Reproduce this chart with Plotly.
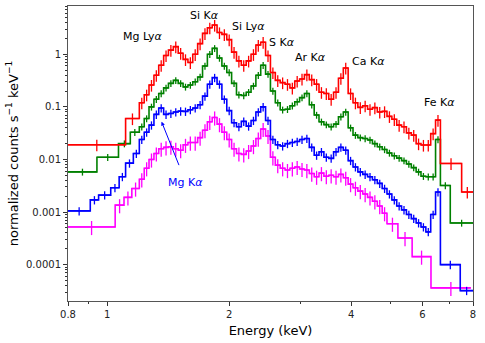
import numpy as np
import plotly.graph_objects as go

# Shared energy grid (keV) for the finely binned part of the spectra
grid = [1.200, 1.234, 1.268, 1.304, 1.340, 1.378, 1.416, 1.456, 1.497, 1.539,
        1.582, 1.626, 1.672, 1.719, 1.767, 1.816, 1.867, 1.919, 1.973, 2.028,
        2.085, 2.143, 2.203, 2.265, 2.328, 2.393, 2.460, 2.529, 2.600, 2.673,
        2.748, 2.825, 2.904, 2.985, 3.068, 3.154, 3.243, 3.333, 3.427, 3.523,
        3.621, 3.723, 3.827, 3.934, 4.044, 4.157, 4.274, 4.393, 4.516, 4.643,
        4.773, 4.906, 5.044, 5.185, 5.330, 5.479, 5.633, 5.790, 5.952, 6.119,
        6.290, 6.466, 6.647]

# Red spectrum
red_edges = [0.8, 1.11] + grid[:63] + [7.5, 8.0]
red_vals = [0.019, 0.06,
            0.12, 0.17, 0.26, 0.40, 0.62, 0.95, 1.2, 1.4, 1.05, 0.8,
            0.7, 1.0, 1.6, 2.5, 3.2, 3.6, 2.6, 2.4, 1.9, 1.1,
            0.75, 0.62, 0.75, 1.0, 1.5, 1.7, 0.95, 0.45, 0.32, 0.29,
            0.27, 0.23, 0.31, 0.34, 0.41, 0.33, 0.27, 0.19, 0.18, 0.14,
            0.19, 0.35, 0.55, 0.18, 0.12, 0.098, 0.105, 0.09, 0.097, 0.08,
            0.082, 0.066, 0.058, 0.045, 0.042, 0.032, 0.029, 0.02, 0.0188, 0.0188,
            0.031, 0.056,
            0.0084, 0.0024]

# Green spectrum
green_edges = [0.8, 0.943, 1.066, 1.14] + grid[:63] + [7.03, 8.0]
green_vals = [0.0058, 0.011, 0.020, 0.033,
              0.042, 0.06, 0.10, 0.14, 0.18, 0.23, 0.28, 0.32, 0.28, 0.24,
              0.26, 0.30, 0.37, 0.6, 1.0, 1.3, 0.85, 0.6, 0.45, 0.28,
              0.17, 0.165, 0.19, 0.25, 0.40, 0.62, 0.42, 0.2, 0.12, 0.088,
              0.09, 0.105, 0.125, 0.15, 0.18, 0.11, 0.07, 0.052, 0.046, 0.042,
              0.047, 0.065, 0.08, 0.04, 0.029, 0.026, 0.025, 0.0234, 0.020, 0.0175,
              0.0155, 0.0133, 0.0118, 0.0106, 0.0095, 0.0082, 0.0070, 0.0058, 0.0048, 0.0047,
              0.0047, 0.024,
              0.0032, 0.00062]

# Blue spectrum
blue_edges = [0.8, 0.908, 0.952, 1.02, 1.07, 1.11, 1.16] + grid[:63] + [7.44, 8.0]
blue_vals = [0.00105, 0.0017, 0.0021, 0.0029, 0.0047, 0.0085, 0.013,
             0.024, 0.033, 0.045, 0.072, 0.095, 0.072, 0.075, 0.08, 0.083, 0.082,
             0.088, 0.095, 0.11, 0.16, 0.27, 0.36, 0.27, 0.14, 0.085, 0.05,
             0.042, 0.053, 0.043, 0.055, 0.08, 0.10, 0.055, 0.024, 0.019, 0.018,
             0.020, 0.021, 0.022, 0.024, 0.025, 0.017, 0.012, 0.014, 0.011, 0.0105,
             0.014, 0.017, 0.015, 0.0095, 0.0072, 0.0058, 0.0052, 0.0047, 0.0041, 0.0035,
             0.0028, 0.0022, 0.0017, 0.0013, 0.0011, 0.0009, 0.00075, 0.00062, 0.00052, 0.00042,
             0.0009, 0.0024,
             0.0001, 0.000032]

# Magenta spectrum
mag_edges = [0.8, 1.046, 1.10, 1.15] + grid[:52] + [5.22, 5.66, 6.3, 7.9]
mag_vals = [0.00052, 0.00135, 0.0019, 0.0028,
            0.0042, 0.0068, 0.010, 0.013, 0.016, 0.017, 0.0175, 0.016, 0.015, 0.019,
            0.021, 0.021, 0.026, 0.036, 0.052, 0.063, 0.047, 0.033, 0.024, 0.016,
            0.013, 0.0125, 0.0145, 0.018, 0.025, 0.038, 0.028, 0.011, 0.0078, 0.0068,
            0.0063, 0.0068, 0.0072, 0.0066, 0.0063, 0.0054, 0.0047, 0.0055, 0.0048, 0.005,
            0.0047, 0.0052, 0.0045, 0.0034, 0.0029, 0.0025, 0.0022, 0.0019, 0.0016, 0.0013,
            0.00095,
            0.0006, 0.00032, 0.000142, 0.000036]

series = [
    ("#ff00ff", mag_edges, mag_vals, 30),
    ("#0000ff", blue_edges, blue_vals, 18),
    ("#008000", green_edges, green_vals, 15),
    ("#ff0000", red_edges, red_vals, 25),
]

fig = go.Figure()
for color, edges, vals, pct in series:
    e = np.array(edges, dtype=float)
    v = np.array(vals, dtype=float)
    centers = np.sqrt(e[:-1] * e[1:])
    fig.add_trace(go.Scatter(
        x=e, y=np.append(v, v[-1]), mode="lines",
        line=dict(color=color, width=1.6, shape="hv"),
        hoverinfo="skip", showlegend=False))
    fig.add_trace(go.Scatter(
        x=centers, y=v, mode="markers",
        marker=dict(size=1, color=color),
        error_x=dict(type="data", array=e[1:] - centers, arrayminus=centers - e[:-1],
                     color=color, thickness=1.3, width=0),
        error_y=dict(type="percent", value=pct, color=color, thickness=1.3, width=0),
        hoverinfo="skip", showlegend=False))

labels = [
    ("Mg Ly<i>α</i>", 0.186, 0.896),
    ("Si K<i>α</i>", 0.338, 0.969),
    ("Si Ly<i>α</i>", 0.445, 0.930),
    ("S K<i>α</i>", 0.528, 0.876),
    ("Ar K<i>α</i>", 0.598, 0.824),
    ("Ca K<i>α</i>", 0.741, 0.811),
    ("Fe K<i>α</i>", 0.917, 0.672),
]
for txt, px, py in labels:
    fig.add_annotation(text=txt, x=px, y=py, xref="paper", yref="paper",
                       xanchor="center", yanchor="middle",
                       showarrow=False, font=dict(size=11, color="black"))
fig.add_annotation(text="Mg K<i>α</i>", x=0.289, y=0.401, xref="paper", yref="paper",
                   xanchor="center", yanchor="middle",
                   showarrow=False, font=dict(size=11, color="#0000ff"))
fig.add_annotation(text="", x=0.231, y=0.608, xref="paper", yref="paper",
                   showarrow=True, ax=18, ay=45, arrowhead=2, arrowsize=0.8,
                   arrowwidth=1, arrowcolor="#0000ff")

y_minor = [k * 10.0 ** p for p in range(-5, 1) for k in range(2, 10)]

fig.update_layout(
    width=485, height=343,
    margin=dict(l=68, r=12, t=6, b=42),
    paper_bgcolor="white", plot_bgcolor="white",
    font=dict(family="DejaVu Sans", color="black"),
    xaxis=dict(
        type="log", range=[np.log10(0.8), np.log10(8.0)],
        tickmode="array", tickvals=[0.8, 1, 2, 4, 6, 8],
        ticktext=["0.8", "1", "2", "4", "6", "8"],
        ticks="outside", ticklen=4, tickcolor="#333", tickwidth=1,
        minor=dict(tickmode="array", tickvals=[0.9, 3, 5, 7], ticks="outside",
                   ticklen=2, tickcolor="#333", showgrid=False),
        showline=True, linecolor="#555", linewidth=1, mirror=True,
        showgrid=False, zeroline=False,
        tickfont=dict(size=10, color="#222"),
        title=dict(text="Energy (keV)", font=dict(size=13), standoff=6),
    ),
    yaxis=dict(
        type="log", range=[np.log10(2.03e-5), np.log10(8.3)],
        tickmode="array", tickvals=[1e-4, 1e-3, 1e-2, 0.1, 1],
        ticktext=["0.0001", "0.001", "0.01", "0.1", "1"],
        ticks="outside", ticklen=4, tickcolor="#333", tickwidth=1,
        minor=dict(tickmode="array", tickvals=y_minor, ticks="outside",
                   ticklen=2, tickcolor="#333", showgrid=False),
        showline=True, linecolor="#555", linewidth=1, mirror=True,
        showgrid=False, zeroline=False,
        tickfont=dict(size=10, color="#222"),
        title=dict(text="normalized counts s<sup>−1</sup> keV<sup>−1</sup>",
                   font=dict(size=13), standoff=4),
    ),
)

fig.write_html("out.html", config={"displayModeBar": False},
               post_script="document.body.style.margin='0';document.body.style.overflow='hidden';")
